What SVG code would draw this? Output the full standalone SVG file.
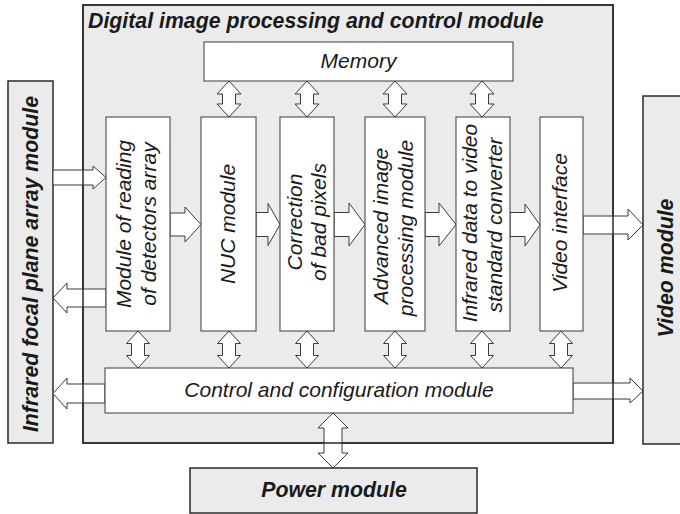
<svg xmlns="http://www.w3.org/2000/svg" width="680" height="514" viewBox="0 0 680 514">
  <style>
    .outer { fill: #ebebeb; stroke: #2a2a2a; stroke-width: 1.5; }
    .frame { fill: none; stroke: #2a2a2a; stroke-width: 1.5; }
    .box { fill: #ffffff; stroke: #3a3a3a; stroke-width: 1; }
    .arrow { fill: #ffffff; stroke: #3a3a3a; stroke-width: 1; stroke-linejoin: miter; }
    text { font-family: "Liberation Sans", Arial, sans-serif; fill: #1a1a1a; }
    .lbl { font-size: 21px; font-style: italic; }
    .bold { font-size: 21.3px; font-style: italic; font-weight: bold; }
  </style>

  <!-- enclosing processing module (fill only; frame is drawn over the connectors) -->
  <g id="processing-module">
    <rect class="outer" x="83" y="5" width="530" height="438"/>
    <text class="bold" x="88" y="28">Digital image processing and control module</text>
  </g>

  <!-- external modules -->
  <g id="fpa-module">
    <rect class="outer" x="8" y="81" width="45" height="362"/>
    <text class="bold" text-anchor="middle" transform="translate(38,264) rotate(-90)">Infrared focal plane array module</text>
  </g>
  <g id="video-module">
    <rect class="outer" x="643" y="96" width="45" height="348"/>
    <text class="bold" text-anchor="middle" transform="translate(673,268) rotate(-90)">Video module</text>
  </g>
  <g id="power-module">
    <rect class="outer" x="190" y="468" width="287" height="45"/>
    <text class="bold" text-anchor="middle" x="334" y="496.5">Power module</text>
  </g>

  <!-- block arrows -->
  <g id="connectors">
    <!-- FPA -> reading module -->
    <polygon class="arrow" points="53,170 93,170 93,166 106,177.5 93,189 93,185 53,185"/>
    <!-- reading module -> FPA -->
    <polygon class="arrow" points="106,289 67,289 67,283 53,298 67,313 67,307 106,307"/>
    <!-- data path between processing stages -->
    <polygon class="arrow" points="170,213 185,213 185,207 201,224.5 185,242 185,236 170,236"/>
    <polygon class="arrow" points="256,212.5 268,212.5 268,203.5 280,224.5 268,245.5 268,236.5 256,236.5"/>
    <polygon class="arrow" points="334,212.5 349,212.5 349,203 365,224.5 349,246 349,236.5 334,236.5"/>
    <polygon class="arrow" points="425,212.5 439,212.5 439,203 456,224.5 439,246 439,236.5 425,236.5"/>
    <polygon class="arrow" points="510,212.5 525,212.5 525,204 540,225 525,246 525,236.5 510,236.5"/>
    <!-- video interface -> video module -->
    <polygon class="arrow" points="583,216 628,216 628,209 643,225 628,240 628,234 583,234"/>
    <!-- control module -> FPA / video module -->
    <polygon class="arrow" points="105,384 67,384 67,378 53,393.5 67,409 67,403 105,403"/>
    <polygon class="arrow" points="573,383 630,383 630,378 643,391 630,403 630,399 573,399"/>

    <!-- memory buses -->
    <polygon class="arrow" points="229,81 241,94 235.5,94 235.5,104 241,104 229,117 217,104 222.5,104 222.5,94 217,94"/>
    <polygon class="arrow" points="307,81 319,94 313.5,94 313.5,104 319,104 307,117 295,104 300.5,104 300.5,94 295,94"/>
    <polygon class="arrow" points="395,81 407,94 401.5,94 401.5,104 407,104 395,117 383,104 388.5,104 388.5,94 383,94"/>
    <polygon class="arrow" points="482,81 494,94 488.5,94 488.5,104 494,104 482,117 470,104 475.5,104 475.5,94 470,94"/>

    <!-- control buses -->
    <polygon class="arrow" points="138,331 149.5,343.5 144.5,343.5 144.5,355.5 149.5,355.5 138,368 126.5,355.5 131.5,355.5 131.5,343.5 126.5,343.5"/>
    <polygon class="arrow" points="229,331 240.5,343.5 235.5,343.5 235.5,355.5 240.5,355.5 229,368 217.5,355.5 222.5,355.5 222.5,343.5 217.5,343.5"/>
    <polygon class="arrow" points="307,331 318.5,343.5 313.5,343.5 313.5,355.5 318.5,355.5 307,368 295.5,355.5 300.5,355.5 300.5,343.5 295.5,343.5"/>
    <polygon class="arrow" points="395,331 406.5,343.5 401.5,343.5 401.5,355.5 406.5,355.5 395,368 383.5,355.5 388.5,355.5 388.5,343.5 383.5,343.5"/>
    <polygon class="arrow" points="482,331 493.5,343.5 488.5,343.5 488.5,355.5 493.5,355.5 482,368 470.5,355.5 475.5,355.5 475.5,343.5 470.5,343.5"/>
    <polygon class="arrow" points="561,331 572.5,343.5 567.5,343.5 567.5,355.5 572.5,355.5 561,368 549.5,355.5 554.5,355.5 554.5,343.5 549.5,343.5"/>

    <!-- power bus -->
    <polygon class="arrow" points="333,413 348,428 342,428 342,453 348,453 333,468 318,453 324,453 324,428 318,428"/>
  </g>

  <!-- frame of the processing module, drawn over the connectors -->
  <rect id="processing-module-frame" class="frame" x="83" y="5" width="530" height="438"/>

  <!-- internal blocks -->
  <g id="memory">
    <rect class="box" x="204" y="42" width="309" height="39"/>
    <text class="lbl" text-anchor="middle" x="358.5" y="67.5">Memory</text>
  </g>
  <g id="reading-module">
    <rect class="box" x="106" y="117" width="64" height="214"/>
    <text class="lbl" text-anchor="middle" transform="translate(131,224) rotate(-90)">Module of reading</text>
    <text class="lbl" text-anchor="middle" transform="translate(156,224) rotate(-90)">of detectors array</text>
  </g>
  <g id="nuc-module">
    <rect class="box" x="201" y="117" width="55" height="214"/>
    <text class="lbl" text-anchor="middle" transform="translate(235,224) rotate(-90)">NUC module</text>
  </g>
  <g id="bad-pixels">
    <rect class="box" x="280" y="117" width="54" height="214"/>
    <text class="lbl" text-anchor="middle" transform="translate(302,222) rotate(-90)">Correction</text>
    <text class="lbl" text-anchor="middle" transform="translate(326,222) rotate(-90)">of bad pixels</text>
  </g>
  <g id="advanced-processing">
    <rect class="box" x="365" y="117" width="60" height="214"/>
    <text class="lbl" text-anchor="middle" transform="translate(388,226) rotate(-90)">Advanced image</text>
    <text class="lbl" text-anchor="middle" transform="translate(413,228) rotate(-90)">processing module</text>
  </g>
  <g id="video-converter">
    <rect class="box" x="456" y="117" width="54" height="214"/>
    <text class="lbl" text-anchor="middle" transform="translate(477,223) rotate(-90)">Infrared data to video</text>
    <text class="lbl" text-anchor="middle" transform="translate(502,225) rotate(-90)">standard converter</text>
  </g>
  <g id="video-interface">
    <rect class="box" x="540" y="117" width="43" height="214"/>
    <text class="lbl" text-anchor="middle" transform="translate(567,223) rotate(-90)">Video interface</text>
  </g>
  <g id="control-module">
    <rect class="box" x="105" y="368" width="468" height="45"/>
    <text class="lbl" text-anchor="middle" x="339" y="396.5">Control and configuration module</text>
  </g>
</svg>
